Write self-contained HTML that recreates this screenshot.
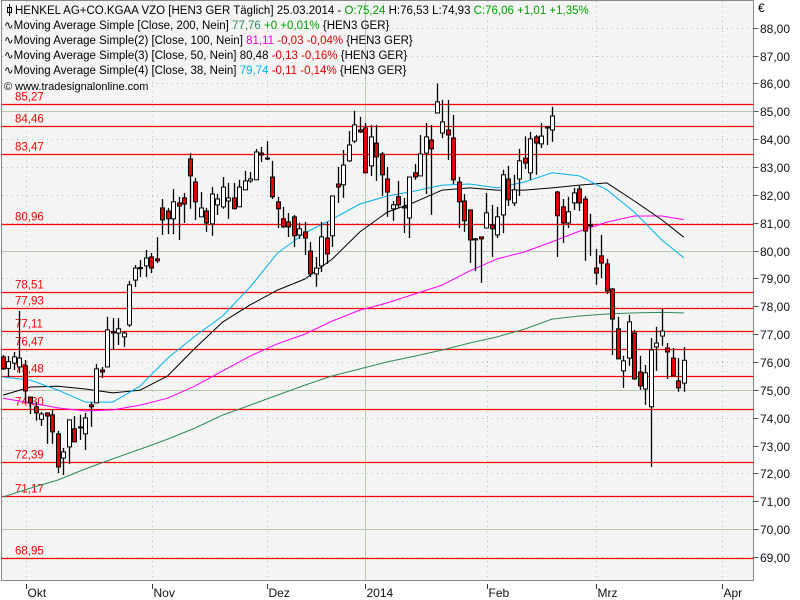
<!DOCTYPE html>
<html><head><meta charset="utf-8"><style>
body{margin:0;background:#fff;}
svg{display:block;font-family:"Liberation Sans",sans-serif;}
</style></head><body>
<svg id="chart" width="800" height="600" viewBox="0 0 800 600" xmlns="http://www.w3.org/2000/svg">
<rect x="1.5" y="0.5" width="752" height="580" fill="#f4f4f4" stroke="#888" stroke-width="1"/>
<g id="grid"></g><g id="levels"></g><g id="mas"></g><g id="candles"></g><g id="axes"></g>
<g id="legend" font-size="11.5">
<g stroke="#000" fill="none"><line x1="9.5" y1="4" x2="9.5" y2="16"/><rect x="7.5" y="7.5" width="4" height="5"/></g>
<text x="15" y="14">HENKEL AG+CO.KGAA VZO [HEN3 GER  Täglich] 25.03.2014 - <tspan fill="#00a000">O:75,24</tspan> H:76,53 L:74,93 <tspan fill="#00a000">C:76,06 +1,01 +1,35%</tspan></text>
<text x="4" y="29">∿Moving Average Simple [Close, 200, Nein] <tspan fill="#2e8b57">77,76</tspan> <tspan fill="#00a000">+0 +0,01%</tspan> {HEN3 GER}</text>
<text x="4" y="44">∿Moving Average Simple(2) [Close, 100, Nein] <tspan fill="#e000e0">81,11</tspan> <tspan fill="#e00000">-0,03 -0,04%</tspan> {HEN3 GER}</text>
<text x="4" y="59">∿Moving Average Simple(3) [Close, 50, Nein] 80,48 <tspan fill="#e00000">-0,13 -0,16%</tspan> {HEN3 GER}</text>
<text x="4" y="74">∿Moving Average Simple(4) [Close, 38, Nein] <tspan fill="#00b0f0">79,74</tspan> <tspan fill="#e00000">-0,11 -0,14%</tspan> {HEN3 GER}</text>
<text x="4" y="90" font-size="11">© www.tradesignalonline.com</text>
</g>
<text x="758" y="12" font-size="12">€</text>
</svg>
<script>
const opens=[76.18,75.77,75.96,75.82,75.86,74.74,74.39,73.94,74.17,74.10,73.42,72.55,72.95,73.60,73.63,73.42,74.46,74.53,75.71,75.82,77.04,77.04,76.90,77.33,78.94,79.35,79.45,79.77,79.70,81.53,81.42,81.14,81.71,81.89,83.29,82.46,81.21,81.42,80.96,81.64,81.57,81.78,81.89,81.57,82.18,82.50,82.54,83.50,83.32,82.64,81.75,81.14,81.03,81.21,80.56,80.67,79.98,79.16,79.45,80.45,80.53,82.39,82.36,83.22,83.93,84.33,84.40,83.04,83.86,83.47,82.57,81.50,81.93,81.53,81.17,82.79,82.68,83.50,83.97,84.94,84.22,84.33,84.04,82.46,81.78,81.46,80.38,80.49,80.81,80.92,80.56,81.28,82.57,81.71,82.57,83.32,82.79,84.08,83.83,84.40,84.33,82.10,81.57,80.99,81.71,82.21,81.85,80.92,79.37,79.81,79.52,78.62,77.19,75.68,76.14,77.04,75.64,75.03,74.39,76.54,76.93,76.50,76.14,75.32,75.24];
const highs=[76.25,76.21,76.36,77.83,76.07,74.74,74.56,74.21,74.17,74.28,73.53,72.91,73.92,74.06,74.10,74.17,74.55,75.93,75.82,77.62,77.58,77.58,77.08,78.91,79.48,79.66,80.02,79.91,80.48,81.85,81.53,82.21,81.93,82.07,83.50,82.61,82.10,81.53,82.28,82.03,82.64,82.43,82.43,82.54,82.86,82.82,83.65,83.72,83.93,83.22,81.93,81.57,81.35,81.28,81.00,81.03,80.31,79.77,81.03,81.03,81.96,83.00,83.61,84.29,85.02,84.80,84.58,84.51,84.51,83.54,83.00,81.78,82.50,81.89,82.64,83.11,84.15,84.58,84.51,86.00,85.41,85.41,84.87,82.64,82.03,81.46,80.45,80.49,82.07,81.64,81.57,82.90,83.04,82.72,83.65,84.10,84.26,84.15,84.58,84.44,85.16,82.14,81.85,81.93,82.25,82.32,81.96,81.32,80.06,80.56,79.70,78.66,77.62,76.22,77.69,77.15,76.22,75.89,76.86,77.26,77.90,76.68,76.50,76.14,76.53];
const lows=[75.71,75.46,75.71,75.60,74.53,74.13,73.89,73.70,73.06,73.06,72.01,71.94,72.34,73.13,73.20,72.84,73.67,74.53,75.42,75.82,76.43,76.61,76.54,77.26,78.69,79.05,79.05,79.19,79.55,80.56,80.59,80.59,80.38,80.99,81.50,81.10,81.21,80.67,80.53,81.28,81.50,81.14,81.50,81.57,82.18,82.43,82.54,83.18,83.25,81.85,80.81,80.81,80.49,80.13,80.42,79.84,79.05,78.70,79.23,79.52,80.13,81.71,81.89,83.18,83.86,84.22,82.79,82.68,82.50,81.96,81.21,81.07,81.53,80.63,80.45,82.54,82.68,82.03,81.28,84.94,84.04,83.25,82.39,80.81,80.67,79.56,79.27,78.84,80.81,79.77,80.45,80.63,81.60,81.60,81.96,82.93,82.54,82.72,83.68,83.79,83.90,79.77,80.27,80.81,81.46,81.42,79.63,79.81,78.77,79.01,78.44,76.25,76.11,75.07,75.86,75.36,75.00,74.46,72.23,75.68,76.58,75.39,75.50,74.93,74.93];
const closes=[75.75,76.01,76.18,76.14,74.96,74.53,74.17,74.13,74.06,73.49,72.23,72.77,73.92,73.13,73.67,73.99,74.39,75.75,75.64,77.15,77.08,77.19,77.04,78.77,79.37,79.39,79.73,79.37,79.63,81.10,81.14,81.75,81.60,81.67,82.68,81.75,81.53,80.99,82.03,81.85,82.28,81.89,81.50,82.28,82.50,82.57,83.54,83.43,83.29,81.93,81.50,80.85,80.85,80.53,80.78,80.45,79.16,79.37,80.49,79.88,81.96,82.28,83.07,83.79,84.51,84.26,82.79,84.08,83.36,82.72,82.10,81.64,81.64,81.57,82.64,82.64,83.47,84.08,83.65,85.34,84.62,84.15,82.54,81.75,81.07,80.38,80.42,80.42,81.35,80.78,81.21,82.72,81.82,82.18,83.22,83.14,84.01,83.86,84.11,84.44,84.83,81.25,80.99,81.39,82.07,81.71,80.70,80.92,79.19,79.55,78.55,77.54,76.11,76.04,77.44,75.39,75.14,75.61,76.43,76.68,77.11,76.36,75.50,75.07,76.06];
const maIdx=[0,5,10,15,20,25,30,35,40,45,50,55,60,65,70,75,80,85,90,95,100,105,110,115,120,124];
const ma200=[71.15,71.47,71.76,72.16,72.52,72.87,73.23,73.63,74.09,74.45,74.81,75.17,75.50,75.75,76.00,76.21,76.43,76.68,76.90,77.18,77.54,77.65,77.72,77.76,77.78,77.76];
const ma100=[74.70,74.53,74.35,74.24,74.28,74.45,74.70,75.14,75.68,76.21,76.65,77.00,77.47,77.86,78.12,78.44,78.76,79.27,79.70,79.95,80.31,80.70,81.02,81.24,81.24,81.11];
const ma50=[74.81,75.10,75.13,75.03,74.89,74.99,75.50,76.50,77.43,78.05,78.58,78.98,79.70,80.67,81.38,81.74,82.17,82.25,82.17,82.17,82.25,82.35,82.43,81.78,81.10,80.48];
const ma38=[75.46,75.35,74.99,74.56,74.56,75.14,76.14,76.93,77.65,78.69,79.91,80.63,81.13,81.67,81.96,82.14,82.35,82.39,82.25,82.46,82.79,82.68,82.18,81.38,80.38,79.74];
const levelValues=[85.27,84.46,83.47,80.96,78.51,77.93,77.11,76.47,75.48,74.30,72.39,71.17,68.95];
const levelLabels=["85,27","84,46","83,47","80,96","78,51","77,93","77,11","76,47","75,48","74,30","72,39","71,17","68,95"];
const yTicks=[69,70,71,72,73,74,75,76,77,78,79,80,81,82,83,84,85,86,87,88];
const monthLabels=["Okt","Nov","Dez","2014","Feb","Mrz","Apr"];
const monthIdx=[4.1,27.05,48.0,66.0,88.2,108.0,131.0];

const NS="http://www.w3.org/2000/svg";
const X0=3,DX=5.49,Y85=111.3,PPU=27.85,RIGHT=753.5;
function xs(i){return X0+i*DX;}
function ys(v){return Y85+(85-v)*PPU;}
function mk(tag,attrs,parent){const e=document.createElementNS(NS,tag);for(const k in attrs)e.setAttribute(k,attrs[k]);parent.appendChild(e);return e;}
const grid=document.getElementById('grid'),levels=document.getElementById('levels'),mas=document.getElementById('mas'),cg=document.getElementById('candles'),axes=document.getElementById('axes');

yTicks.forEach(v=>{
  const y=Math.round(ys(v))+0.5;
  const solid=(v%5===0);
  const l=mk('line',{x1:2,x2:RIGHT,y1:y,y2:y,stroke:solid?'#b4c8b0':'#b4c4b4','stroke-width':1,'stroke-dasharray':solid?'':'1,4'},grid);
  
  
  const t=mk('line',{x1:RIGHT,x2:RIGHT+5,y1:y,y2:y,stroke:'#555'},axes);
  
  
  const tx=mk('text',{x:760,y:y+4.5,'font-size':12,fill:'#111'},axes);
  tx.textContent=v.toFixed(2).replace('.',',');
  
  
});
monthLabels.forEach((m,k)=>{
  const x=Math.round(xs(monthIdx[k]))+0.5;
  const solid=m==='2014';
  const l=mk('line',{x1:x,x2:x,y1:1,y2:580,stroke:solid?'#b4c8b0':'#b4c4b4','stroke-dasharray':solid?'':'1,4'},grid);
  
  
  const t=mk('line',{x1:x,x2:x,y1:584,y2:589,stroke:'#333'},axes);
  
  
  const tx=mk('text',{x:x+1,y:597,'font-size':12,fill:'#111'},axes);
  tx.textContent=m;
  
  
});
levelValues.forEach((v,k)=>{
  const y=Math.round(ys(v))+0.5;
  const l=mk('line',{x1:2,x2:RIGHT,y1:y,y2:y,stroke:'#ff0000','stroke-width':1.2},levels);
  
  
  const tx=mk('text',{x:15,y:y-4,'font-size':11.5,fill:'#ff0000'},levels);
  tx.textContent=levelLabels[k];
  
  
});
[[ma200,'#2e8b57','ma200-line'],[ma100,'#ff00ff','ma100-line'],[ma50,'#000000','ma50-line'],[ma38,'#00b0f0','ma38-line']].forEach(([arr,col,name])=>{
  const pts=arr.map((v,k)=>xs(maIdx[k]).toFixed(1)+','+ys(v).toFixed(1)).join(' ');
  const p=mk('polyline',{points:pts,fill:'none',stroke:col,'stroke-width':1,'stroke-linejoin':'round'},mas);
  
  
});
opens.forEach((o,i)=>{
  const c=closes[i],x=Math.round(xs(i))+0.5;
  const g=mk('g',{},cg);
  
  
  mk('line',{x1:x,x2:x,y1:ys(highs[i]),y2:ys(lows[i]),stroke:'#000','stroke-width':1.3},g);
  const top=ys(Math.max(o,c)),bot=ys(Math.min(o,c));
  mk('rect',{x:x-2,y:top,width:4,height:Math.max(bot-top,1),fill:c>=o?'#ffffff':'#e00000',stroke:'#000','stroke-width':1},g);
});
</script>
</body></html>
